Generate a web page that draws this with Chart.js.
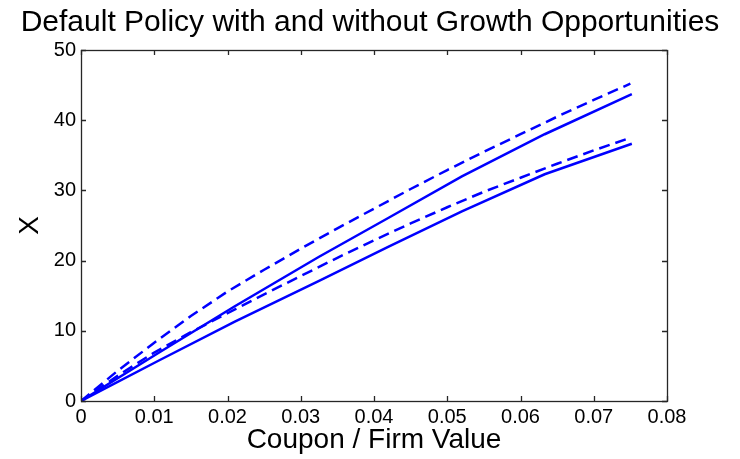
<!DOCTYPE html>
<html>
<head>
<meta charset="utf-8">
<title>Default Policy with and without Growth Opportunities</title>
<script src="https://cdn.jsdelivr.net/npm/chart.js@4.4.1/dist/chart.umd.min.js"></script>
<style>
  html, body { margin: 0; padding: 0; background: #fff; }
  #wrap { width: 740px; height: 459px; }
</style>
</head>
<body>
<div id="wrap"><canvas id="chart" width="740" height="459"></canvas></div>
<script>
// coupon / firm value grid for the solid curves (kinked, coarse grid)
const solidX = [0, 0.0105, 0.021, 0.0325, 0.042, 0.052, 0.0633, 0.0752];
const solidUpper = [0, 6.8, 13.5, 20.55, 26.1, 32.0, 38.0, 43.7];
const solidLower = [0, 5.7, 11.3, 17.1, 22.0, 27.0, 32.3, 36.65];

// finer grid for the dashed curves
const dashX = [0, 0.005, 0.01, 0.015, 0.02, 0.025, 0.03, 0.035, 0.04, 0.045, 0.05, 0.055, 0.06, 0.065, 0.07, 0.075];
const dashUpper = [0, 4.3, 8.3, 12.1, 15.6, 18.7, 21.7, 24.6, 27.4, 30.2, 32.9, 35.5, 38.0, 40.5, 42.9, 45.2];
const dashLower = [0, 3.6, 6.9, 9.8, 12.5, 15.2, 17.8, 20.4, 22.9, 25.3, 27.6, 29.8, 31.8, 33.8, 35.7, 37.5];

const xTicks = [0, 0.01, 0.02, 0.03, 0.04, 0.05, 0.06, 0.07, 0.08];
const yTicks = [0, 10, 20, 30, 40, 50];

const BLUE = '#0000ff';
const FONT = '"Liberation Sans", Arial, Helvetica, sans-serif';

function pts(xs, ys){ return xs.map((x, i) => ({x: x, y: ys[i]})); }

function line(data, dashed){
  return {
    data: data,
    borderColor: BLUE,
    borderWidth: 2.5,
    borderDash: dashed ? [11, 6] : [],
    pointRadius: 0,
    tension: 0,
    fill: false
  };
}

// matlab style box with inward ticks on all four sides
const frame = {
  id: 'frame',
  afterDatasetsDraw(chart){
    const {ctx, chartArea: a, scales: {x, y}} = chart;
    const len = 5;
    ctx.save();
    ctx.strokeStyle = '#262626';
    ctx.lineWidth = 1.3;
    ctx.beginPath();
    xTicks.forEach(v => {
      const px = Math.round(x.getPixelForValue(v)) + 0.5;
      ctx.moveTo(px, a.bottom); ctx.lineTo(px, a.bottom - len);
      ctx.moveTo(px, a.top); ctx.lineTo(px, a.top + len);
    });
    yTicks.forEach(v => {
      const py = Math.round(y.getPixelForValue(v)) + 0.5;
      ctx.moveTo(a.left, py); ctx.lineTo(a.left + len, py);
      ctx.moveTo(a.right, py); ctx.lineTo(a.right - len, py);
    });
    ctx.stroke();
    ctx.strokeRect(a.left + 0.5, a.top + 0.5, a.right - a.left, a.bottom - a.top);
    ctx.restore();
  }
};

Chart.defaults.color = '#000';
Chart.defaults.font.family = FONT;

new Chart(document.getElementById('chart').getContext('2d'), {
  type: 'line',
  data: {
    datasets: [
      line(pts(solidX, solidUpper), false),
      line(pts(solidX, solidLower), false),
      line(pts(dashX, dashUpper), true),
      line(pts(dashX, dashLower), true)
    ]
  },
  options: {
    responsive: false,
    animation: false,
    layout: { padding: 0 },
    plugins: {
      legend: { display: false },
      tooltip: { enabled: false },
      title: {
        display: true,
        text: 'Default Policy with and without Growth Opportunities',
        font: { size: 30, weight: 'normal', family: FONT },
        color: '#000',
        padding: { top: 5, bottom: 9 }
      }
    },
    scales: {
      x: {
        type: 'linear',
        min: 0, max: 0.08,
        afterFit: s => { s.height = 58; },
        afterBuildTicks: s => { s.ticks = xTicks.map(v => ({value: v})); },
        grid: { display: false, drawTicks: false },
        border: { display: false },
        ticks: {
          padding: 4,
          font: { size: 20 },
          maxRotation: 0,
          callback: v => v === 0 ? '0' : v.toFixed(2)
        },
        title: {
          display: true,
          text: 'Coupon / Firm Value',
          font: { size: 28 },
          padding: { top: 0, bottom: 2 }
        }
      },
      y: {
        type: 'linear',
        min: 0, max: 50,
        afterFit: s => { s.width = 81; },
        afterBuildTicks: s => { s.ticks = yTicks.map(v => ({value: v})); },
        grid: { display: false, drawTicks: false },
        border: { display: false },
        ticks: { padding: 5, font: { size: 20 } },
        title: {
          display: true,
          text: 'X',
          font: { size: 28 },
          padding: { top: 13, bottom: 0 }
        }
      },
      // empty right-hand strip so the plot box ends where the reference's does
      spacer: {
        type: 'linear',
        position: 'right',
        display: true,
        afterFit: s => { s.width = 73; },
        grid: { display: false, drawTicks: false },
        border: { display: false },
        ticks: { display: false }
      }
    }
  },
  plugins: [frame]
});
</script>
</body>
</html>
